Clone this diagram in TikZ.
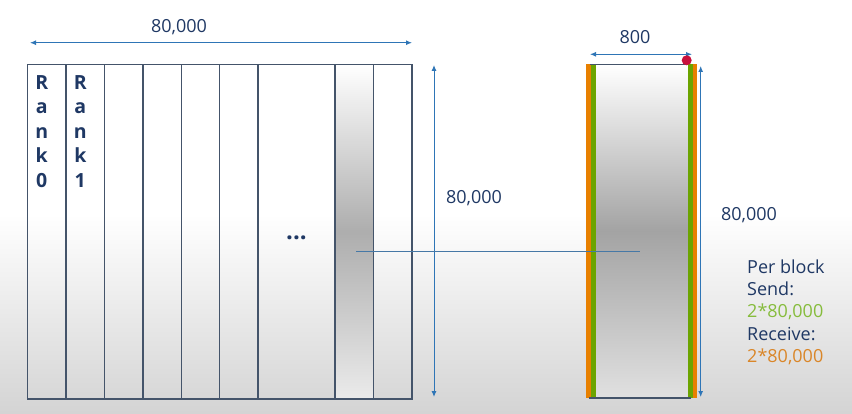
\documentclass[tikz,border=0pt]{standalone}
\usepackage{fontspec}
\setmainfont{Open Sans}
\usetikzlibrary{arrows.meta}
\definecolor{navy}{HTML}{1F3864}
\definecolor{gridline}{HTML}{44546A}
\definecolor{arrowblue}{HTML}{2E75B6}
\definecolor{stripeorange}{HTML}{E88000}
\definecolor{stripegreen}{HTML}{6CA400}
\definecolor{txtgreen}{HTML}{86BC3C}
\definecolor{txtorange}{HTML}{DA8628}
\definecolor{dotred}{HTML}{C8103C}
\tikzset{
  dimarrow/.style={draw=arrowblue, line width=1pt, {Latex[length=6pt,width=5pt]}-{Latex[length=6pt,width=5pt]}},
  colline/.style={draw=gridline, line width=1.2pt},
  dimlabel/.style={text=navy, font=\fontsize{18}{21}\selectfont, inner sep=0pt, anchor=base},
  ranklabel/.style={text=navy, font=\fontsize{19.5}{24.5}\selectfont\bfseries, inner sep=0pt, anchor=north, align=center},
  infolabel/.style={font=\fontsize{18}{22}\selectfont, inner sep=0pt, anchor=base west}
}
\begin{document}
\begin{tikzpicture}[x=1pt,y=-1pt]
\useasboundingbox (0,0) rectangle (852,414);
% background
\fill[white] (0,0) rectangle (852,215);
\shade[top color=white, bottom color=black!17] (0,214) rectangle (852,414);
% shaded column in the grid
\shade[top color=white, bottom color=black!8, middle color=black!32] (335,64) rectangle (373.3,399);
% grid outline and columns
\coordinate (gtl) at (27.3,64.3);
\coordinate (gbr) at (412,399);
\draw[colline] (gtl) rectangle (gbr);
\foreach \x/\n in {66/c1,104.7/c2,143/c3,181.3/c4,219.7/c5,258/c6,335/c7,373.3/c8}{
  \coordinate (\n t) at (\x,64.3);
  \coordinate (\n b) at (\x,399);
  \draw[colline] (\n t) -- (\n b);
}
% rank labels
\node[ranklabel] (rank0) at (41.7,75) {R\\a\\n\\k\\0};
\node[ranklabel] (rank1) at (80.3,75) {R\\a\\n\\k\\1};
\node[text=navy, font=\fontsize{24}{24}\selectfont\bfseries, inner sep=0pt, anchor=base] (dots) at (296.5,240) {...};
% top dimension
\coordinate (ta) at (30,42.7);
\coordinate (tb) at (412,42.7);
\draw[dimarrow] (ta) -- (tb);
\node[dimlabel] (toplabel) at (179,32.3) {80,000};
% left block vertical dimension
\coordinate (va) at (434,65);
\coordinate (vb) at (434,397);
\draw[dimarrow] (va) -- (vb);
\node[dimlabel] (vlabel) at (474,203.3) {80,000};
% single block
\shade[top color=white, bottom color=black!12, middle color=black!36] (595,64.3) rectangle (688,397.7);
\fill[stripeorange] (586,64.3) rectangle (591,397.7);
\fill[stripegreen] (591,64.3) rectangle (595.5,397.7);
\fill[stripegreen] (688,64.3) rectangle (693.3,397.7);
\fill[stripeorange] (693.3,64.3) rectangle (697,397.7);
\coordinate (btl) at (590,64.3);
\coordinate (btr) at (688,64.3);
\coordinate (bbl) at (589,398);
\coordinate (bbr) at (691,398);
\draw[gridline, line width=1.2pt] (btl) -- (btr);
\draw[gridline, line width=1.2pt] (bbl) -- (bbr);
% connecting line
\coordinate (ca) at (356,251.7);
\coordinate (cb) at (640,251.7);
\draw[draw=arrowblue!70!gray, line width=0.8pt] (ca) -- (cb);
% block width dimension
\coordinate (wa) at (590,54.3);
\coordinate (wb) at (692,54.3);
\draw[dimarrow] (wa) -- (wb);
\node[dimlabel] (wlabel) at (635,43.3) {800};
\fill[dotred] (686.7,60.3) circle (5pt);
% block height dimension
\coordinate (ha) at (700.7,66);
\coordinate (hb) at (700.7,397);
\draw[dimarrow] (ha) -- (hb);
\node[dimlabel] (hlabel) at (749,220.7) {80,000};
% info text
\node[infolabel, text=navy] (perblock) at (747,274) {Per block};
\node[infolabel, text=navy] (send) at (747,296) {Send:};
\node[infolabel, text=txtgreen] (sendval) at (747,318) {2*80,000};
\node[infolabel, text=navy] (recv) at (747,340) {Receive:};
\node[infolabel, text=txtorange] (recvval) at (747,362) {2*80,000};
\end{tikzpicture}
\end{document}
